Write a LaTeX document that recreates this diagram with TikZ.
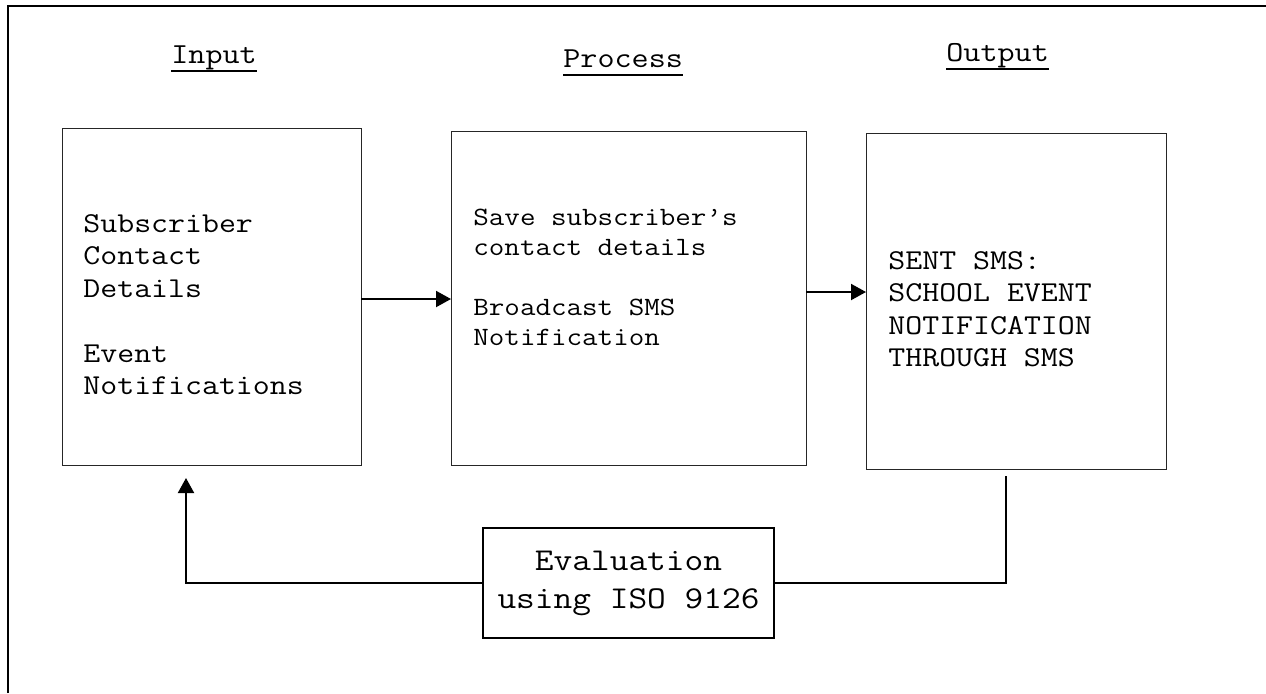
\documentclass[tikz,border=0pt]{standalone}
\usepackage{fontspec}
\usetikzlibrary{arrows.meta}
% typewriter face widened to Courier-like advance (0.6 em)
\newfontfamily\courier{Latin Modern Mono}[FakeStretch=1.143]
% underlined heading word: rule sits just under the descenders
\newcommand\ulword[1]{\setbox0\hbox{#1}\rlap{\vrule width \wd0 height -3.5pt depth 4.5pt}\box0}
% stacked lines with a fixed baseline distance; the block's baseline is its first line
\newcommand\stack[2]{\vtop{\baselineskip=#1\lineskiplimit=-20pt\lineskip=0pt #2}}
\begin{document}
\begin{tikzpicture}[x=0.5pt, y=-0.5pt,
  box/.style={draw=black!85, line width=0.5pt, inner sep=0pt, outer sep=0pt},
  evalbox/.style={draw=black, line width=1pt, inner sep=0pt, outer sep=0pt,
    align=center, font=\courier\fontsize{15.9}{19}\selectfont},
  heading/.style={inner sep=0pt, anchor=base west, font=\courier\fontsize{14.5}{17}\selectfont},
  body/.style={inner sep=0pt, anchor=base west, font=\courier\fontsize{14.4}{16.25}\selectfont},
  small/.style={inner sep=0pt, anchor=base west, font=\courier\fontsize{13.2}{15}\selectfont},
  link/.style={line width=1pt},
  arr/.style={line width=1pt, -{Triangle[length=7.5pt, width=8pt]}}]
\useasboundingbox (0,0) rectangle (1266,693);

% frame along the left and top edges
\draw[line width=1pt] (8,693) -- (8,6) -- (1266,6);

% column headings
\node[heading] (hin)   at (171,63) {\ulword{Input}};
\node[heading] (hproc) at (563,67) {\ulword{Process}};
\node[heading] (hout)  at (946,61) {\ulword{Output}};

% the three stage boxes
\node[box, minimum width=149.5pt, minimum height=168.5pt] (inbox)   at (211.5,296.5) {};
\node[box, minimum width=177.5pt, minimum height=167pt]   (procbox) at (628.5,298) {};
\node[box, minimum width=150pt,   minimum height=168pt]   (outbox)  at (1016,301) {};

% box contents
\node[body] (intext) at (83,232)
  {\stack{16.25pt}{\hbox{Subscriber}\hbox{Contact}\hbox{Details}\hbox{}\hbox{Event}\hbox{Notifications}}};
\node[small] (proctext) at (473,225)
  {\stack{15pt}{\hbox{Save subscriber’s}\hbox{contact details}\hbox{}\hbox{Broadcast SMS}\hbox{Notification}}};
\node[body] (outtext) at (888,269)
  {\stack{16.25pt}{\hbox{SENT SMS:}\hbox{SCHOOL EVENT}\hbox{NOTIFICATION}\hbox{THROUGH SMS}}};

% evaluation box
\node[evalbox, minimum width=145.5pt, minimum height=55pt] (eval) at (628.5,583)
  {Evaluation\\using ISO 9126};

% forward flow
\draw[arr] (inbox.east |- 0,299) -- (procbox.west |- 0,299);
\draw[arr] (procbox.east |- 0,292) -- (outbox.west |- 0,292);

% feedback loop
\coordinate (fbstart) at (1006,476);
\coordinate (fbend) at (186,478);
\draw[link] (fbstart) |- (eval.east);
\draw[arr] (eval.west) -| (fbend);
\end{tikzpicture}
\end{document}
